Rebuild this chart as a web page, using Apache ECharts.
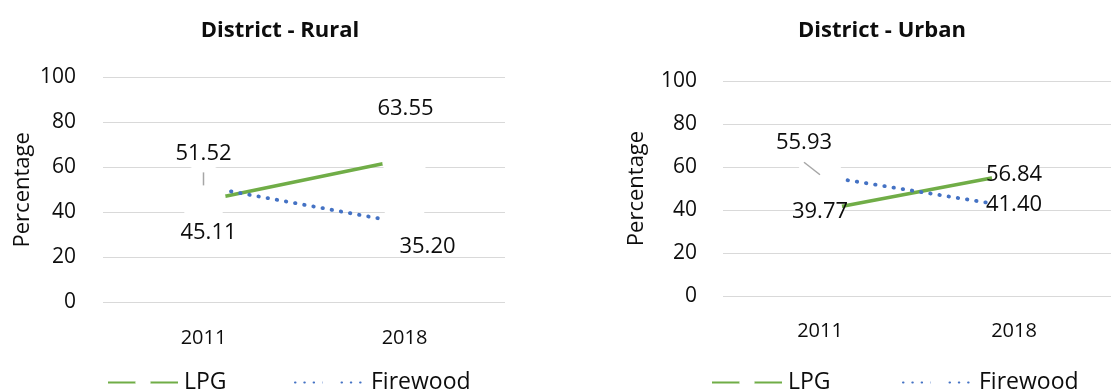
<!DOCTYPE html>
<html>
<head>
<meta charset="utf-8">
<style>
  html, body { margin: 0; padding: 0; background: #ffffff; }
  #chart { width: 1111px; height: 390px; }
</style>
<script src="https://cdn.jsdelivr.net/npm/echarts@6/dist/echarts.min.js"></script>
</head>
<body>
<div id="chart"></div>
<script>
// Household cooking fuel share (%) by district area
const years = ['2011', '2018'];
const ruralLPG = [45.11, 63.55];
const ruralFirewood = [51.52, 35.20];
const urbanLPG = [39.77, 56.84];
const urbanFirewood = [55.93, 41.40];
const yTicks = [0, 20, 40, 60, 80, 100];
const panelTitles = ['District - Rural', 'District - Urban'];
const seriesNames = ['LPG', 'Firewood'];
const axisName = 'Percentage';

const FONT = '"Open Sans", "Noto Sans", sans-serif';
const GREEN = '#70AD47';
const BLUE = '#4472C4';
const GRID_GRAY = '#D9D9D9';
const TEXT = '#0d0d0d';

const chart = echarts.init(document.getElementById('chart'), null, { renderer: 'canvas' });

// line series with wide white markers: they clear the lines and gridlines round each point
function lineSeries(name, values, idx, color, dotted, offsets) {
  return {
    name: name,
    type: 'line',
    xAxisIndex: idx,
    yAxisIndex: idx,
    symbol: 'circle',
    symbolSize: 45,
    showSymbol: true,
    itemStyle: { color: '#ffffff', borderWidth: 0 },
    lineStyle: dotted
      ? { color: color, width: 3.8, type: [0.5, 8.8], cap: 'round' }
      : { color: color, width: 3.5, cap: 'butt' },
    label: {
      show: true,
      position: 'inside',
      fontFamily: FONT,
      fontSize: 22,
      color: TEXT,
      formatter: p => Number(p.value).toFixed(2)
    },
    emphasis: { disabled: true },
    data: values.map((v, i) => ({ value: v, label: { offset: offsets[i] } })),
    z: 3
  };
}

// thin grey leader from a moved label back to its point
function leaderSeries(values, idx, pointIndex, dx, dy) {
  return {
    type: 'custom',
    xAxisIndex: idx,
    yAxisIndex: idx,
    silent: true,
    z: 6,
    data: [[pointIndex, values[pointIndex]]],
    renderItem: function (params, api) {
      const p = api.coord([api.value(0), api.value(1)]);
      return {
        type: 'line',
        shape: { x1: p[0], y1: p[1] - 1, x2: p[0] + dx, y2: p[1] + dy },
        style: { stroke: '#A6A6A6', lineWidth: 1.5 }
      };
    }
  };
}

function yAxis(idx, gap, margin) {
  return {
    type: 'value',
    gridIndex: idx,
    min: yTicks[0],
    max: yTicks[yTicks.length - 1],
    interval: yTicks[1] - yTicks[0],
    name: axisName,
    nameLocation: 'middle',
    nameRotate: 90,
    nameGap: gap,
    nameTextStyle: { fontFamily: FONT, fontSize: 22, color: TEXT },
    axisLine: { show: false },
    axisTick: { show: false },
    axisLabel: { fontFamily: FONT, fontSize: 21, color: TEXT, margin: margin },
    splitLine: { lineStyle: { color: GRID_GRAY, width: 1.2 } }
  };
}

function xAxis(idx, margin) {
  return {
    type: 'category',
    gridIndex: idx,
    data: years,
    boundaryGap: true,
    axisLine: { show: false },
    axisTick: { show: false },
    axisLabel: { fontFamily: FONT, fontSize: 20, color: TEXT, margin: margin },
    splitLine: { show: false }
  };
}

function legend(name, left) {
  return {
    data: [name],
    left: left,
    top: 366,
    itemWidth: 70,
    itemHeight: 19,
    itemGap: 0,
    selectedMode: false,
    textStyle: { fontFamily: FONT, fontSize: 23, color: TEXT, padding: [0, 0, 0, 1] }
  };
}

const option = {
  animation: false,
  backgroundColor: '#ffffff',
  title: [
    { text: panelTitles[0], left: 275, top: 15, textAlign: 'center',
      textStyle: { fontFamily: FONT, fontSize: 22, fontWeight: 'bold', color: TEXT } },
    { text: panelTitles[1], left: 877, top: 15, textAlign: 'center',
      textStyle: { fontFamily: FONT, fontSize: 22, fontWeight: 'bold', color: TEXT } }
  ],
  legend: [
    legend(seriesNames[0], 102),
    legend(seriesNames[1], 289),
    legend(seriesNames[0], 706),
    legend(seriesNames[1], 897)
  ],
  grid: [
    { left: 103, top: 77.3, width: 402, height: 225, containLabel: false },
    { left: 723, top: 81, width: 400, height: 215, containLabel: false }
  ],
  xAxis: [xAxis(0, 26), xAxis(1, 25)],
  yAxis: [yAxis(0, 69, 27), yAxis(1, 75, 26)],
  series: [
    lineSeries(seriesNames[0], ruralLPG, 0, GREEN, false, [[5, 32], [1, -51]]),
    lineSeries(seriesNames[1], ruralFirewood, 0, BLUE, true, [[0, -33], [23, 24]]),
    leaderSeries(ruralFirewood, 0, 0, 0, -14),
    lineSeries(seriesNames[0], urbanLPG, 1, GREEN, false, [[0, 1], [0, 1]]),
    lineSeries(seriesNames[1], urbanFirewood, 1, BLUE, true, [[-16, -33], [0, -2]]),
    leaderSeries(urbanFirewood, 1, 0, -16, -13.5)
  ]
};

chart.setOption(option);
</script>
</body>
</html>
